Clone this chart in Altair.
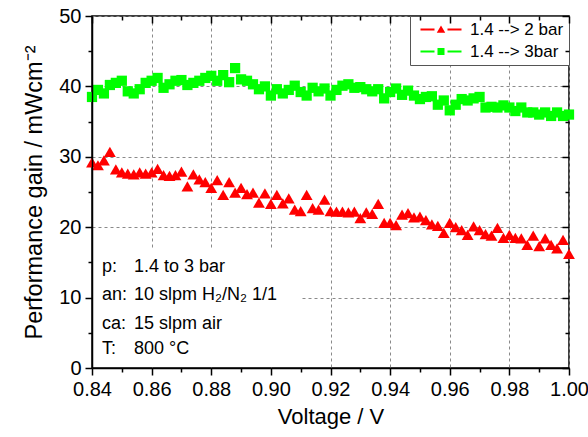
import altair as alt
import pandas as pd

# ---------------- data ----------------
VOLTAGE = [0.840, 0.842, 0.844, 0.846, 0.848, 0.850, 0.852, 0.854, 0.856, 0.858,
           0.860, 0.862, 0.864, 0.866, 0.868, 0.870, 0.872, 0.874, 0.876, 0.878,
           0.880, 0.882, 0.884, 0.886, 0.888, 0.890, 0.892, 0.894, 0.896, 0.898,
           0.900, 0.902, 0.904, 0.906, 0.908, 0.910, 0.912, 0.914, 0.916, 0.918,
           0.920, 0.922, 0.924, 0.926, 0.928, 0.930, 0.932, 0.934, 0.936, 0.938,
           0.940, 0.942, 0.944, 0.946, 0.948, 0.950, 0.952, 0.954, 0.956, 0.958,
           0.960, 0.962, 0.964, 0.966, 0.968, 0.970, 0.972, 0.974, 0.976, 0.978,
           0.980, 0.982, 0.984, 0.986, 0.988, 0.990, 0.992, 0.994, 0.996, 0.998,
           1.000]

GAIN_2BAR = [29.2, 28.8, 29.5, 30.7, 28.2, 27.8, 27.6, 27.5, 27.8, 27.6,
             27.8, 28.3, 27.4, 27.3, 27.4, 27.9, 25.8, 27.5, 26.8, 26.4,
             25.6, 26.7, 24.6, 26.4, 24.9, 25.6, 24.7, 24.9, 23.5, 24.8,
             23.3, 24.6, 23.4, 24.1, 22.5, 22.3, 24.6, 22.7, 22.5, 23.9,
             22.3, 22.2, 22.2, 22.1, 22.2, 21.3, 22.1, 21.9, 23.3, 20.6,
             20.6, 20.3, 21.8, 22.0, 21.4, 21.5, 21.0, 20.4, 20.2, 19.2,
             20.6, 20.0, 19.6, 18.9, 20.1, 19.6, 19.0, 18.8, 19.9, 18.5,
             18.9, 18.5, 18.4, 17.5, 18.8, 17.3, 18.4, 17.5, 17.0, 18.2,
             16.2]

GAIN_3BAR = [38.5, 39.5, 39.0, 40.2, 40.5, 40.8, 39.3, 39.0, 39.6, 40.5,
             40.8, 41.2, 39.8, 40.3, 40.8, 40.9, 40.2, 40.5, 40.8, 41.2,
             41.5, 40.8, 41.6, 40.6, 42.6, 41.0, 40.8, 40.3, 39.6, 40.0,
             38.7, 39.6, 39.0, 39.5, 40.1, 39.2, 38.7, 39.8, 39.3, 39.7,
             38.7, 39.5, 40.1, 40.3, 39.8, 39.9, 39.6, 39.3, 39.6, 38.3,
             39.2, 39.7, 38.8, 39.4, 38.7, 38.2, 38.5, 38.6, 37.4, 38.0,
             36.6, 37.4, 38.2, 38.0, 38.3, 38.5, 37.0, 37.1, 37.0, 37.3,
             37.0, 36.5, 37.0, 36.3, 36.3, 36.0, 36.3, 35.8, 36.3, 35.8,
             36.0]

SERIES = ["1.4 --> 2 bar", "1.4 --> 3bar"]
COLORS = ["#ff0000", "#00ff00"]

X_MAJOR = [0.84, 0.86, 0.88, 0.90, 0.92, 0.94, 0.96, 0.98, 1.00]
X_MINOR = [0.85, 0.87, 0.89, 0.91, 0.93, 0.95, 0.97, 0.99]
Y_MAJOR = [0, 10, 20, 30, 40, 50]
Y_MINOR = [5, 15, 25, 35, 45]

ANNOT_LABELS = ["p:", "an:", "ca:", "T:"]
ANNOT_VALUES = ["1.4 to 3 bar", "10 slpm H\u2082/N\u2082 1/1", "15 slpm air", "800 \u00b0C"]

X_TITLE = "Voltage / V"
Y_TITLE = "Performance gain / mWcm\u207b\u00b2"

# ---------------- chart ----------------
FONT = "Liberation Sans"
W, H = 477, 352

df = pd.DataFrame({
    "V": VOLTAGE * 2,
    "gain": GAIN_2BAR + GAIN_3BAR,
    "series": [SERIES[0]] * len(VOLTAGE) + [SERIES[1]] * len(VOLTAGE),
})

xs = alt.Scale(domain=[X_MAJOR[0], X_MAJOR[-1]], nice=False, zero=False)
ys = alt.Scale(domain=[Y_MAJOR[0], Y_MAJOR[-1]], nice=False, zero=False)

NOAX = dict(labels=False, domain=False, grid=False, title=None)


def carrier(xaxis, yaxis):
    return alt.Chart(df).mark_point(opacity=0).encode(
        x=alt.X("V:Q", scale=xs, axis=xaxis),
        y=alt.Y("gain:Q", scale=ys, axis=yaxis),
    )


# grid (behind everything)
grid_layer = carrier(
    alt.Axis(orient="bottom", values=X_MAJOR, grid=True, gridColor="#8a8a8a",
             gridDash=[3, 3], gridWidth=1, ticks=False, labels=False,
             domain=False, title=None, zindex=0),
    alt.Axis(orient="left", values=Y_MAJOR, grid=True, gridColor="#8a8a8a",
             gridDash=[3, 3], gridWidth=1, ticks=False, labels=False,
             domain=False, title=None, zindex=0),
)

# white background of the annotation block
annot_bg = alt.Chart(pd.DataFrame({"a": [0]})).mark_rect(color="white").encode(
    x=alt.value(1), x2=alt.value(210), y=alt.value(232), y2=alt.value(351)
)

ANNOT_Y = [251, 279, 308, 333]
annot_layers = []
for lab, val, yy in zip(ANNOT_LABELS, ANNOT_VALUES, ANNOT_Y):
    d = pd.DataFrame({"lab": [lab], "val": [val]})
    annot_layers.append(
        alt.Chart(d).mark_text(align="left", baseline="middle", font=FONT,
                               fontSize=18, color="black")
        .encode(x=alt.value(10), y=alt.value(yy), text="lab:N"))
    annot_layers.append(
        alt.Chart(d).mark_text(align="left", baseline="middle", font=FONT,
                               fontSize=18, color="black")
        .encode(x=alt.value(42), y=alt.value(yy), text="val:N"))

# data points with the main axes
main_x = alt.Axis(orient="bottom", values=X_MAJOR, format=".2f", grid=False,
                  domain=True, domainColor="black", domainWidth=1.5,
                  ticks=True, tickColor="black", tickWidth=1.5, tickSize=7,
                  labelFont=FONT, labelFontSize=20, labelColor="black",
                  labelPadding=4, labelFlush=False, labelOverlap=False,
                  title=X_TITLE, titleFont=FONT, titleFontSize=22,
                  titleFontWeight="normal", titleColor="black", titlePadding=7,
                  zindex=1)
main_y = alt.Axis(orient="left", values=Y_MAJOR, format="d", grid=False,
                  domain=True, domainColor="black", domainWidth=1.5,
                  ticks=True, tickColor="black", tickWidth=1.5, tickSize=7,
                  labelFont=FONT, labelFontSize=20, labelColor="black",
                  labelPadding=4, labelFlush=False, labelOverlap=False,
                  title=Y_TITLE, titleFont=FONT, titleFontSize=23.5,
                  titleFontWeight="normal", titleColor="black", titlePadding=12,
                  zindex=1)

points = alt.Chart(df).mark_point(filled=True, opacity=1).encode(
    x=alt.X("V:Q", scale=xs, axis=main_x),
    y=alt.Y("gain:Q", scale=ys, axis=main_y),
    color=alt.Color("series:N", scale=alt.Scale(domain=SERIES, range=COLORS), legend=None),
    shape=alt.Shape("series:N", scale=alt.Scale(domain=SERIES, range=["triangle-up", "square"]), legend=None),
    size=alt.Size("series:N", scale=alt.Scale(domain=SERIES, range=[140, 105]), legend=None),
)

TK = dict(ticks=True, tickColor="black", tickWidth=1.5, zindex=1)
minor_layer = carrier(
    alt.Axis(orient="bottom", values=X_MINOR, tickSize=4, **TK, **NOAX),
    alt.Axis(orient="left", values=Y_MINOR, tickSize=4, **TK, **NOAX),
)
inner_major = carrier(
    alt.Axis(orient="top", offset=-7, values=X_MAJOR, tickSize=7, **TK, **NOAX),
    alt.Axis(orient="right", offset=-7, values=Y_MAJOR, tickSize=7, **TK, **NOAX),
)
inner_minor = carrier(
    alt.Axis(orient="top", offset=-4, values=X_MINOR, tickSize=4, **TK, **NOAX),
    alt.Axis(orient="right", offset=-4, values=Y_MINOR, tickSize=4, **TK, **NOAX),
)

# legend (dash - marker - dash symbols)
DASHES = "M-4.1,-0.2H-1.3V0.2H-4.1Z M1.3,-0.2H4.1V0.2H1.3Z "
TRI_PATH = DASHES + "M0,-0.8L0.85,0.65L-0.85,0.65Z"
SQ_PATH = DASHES + "M-0.7,-0.7H0.7V0.7H-0.7Z"

leg = alt.Legend(title=None, orient="top-right", offset=0, padding=5,
                 fillColor="white", strokeColor="#555555",
                 labelFont=FONT, labelFontSize=17, labelColor="black",
                 symbolSize=100, symbolOffset=17.5, labelOffset=20.5,
                 rowPadding=4)

legend_layer = alt.Chart(df).transform_filter("false").mark_point(filled=True, opacity=1).encode(
    color=alt.Color("series:N", scale=alt.Scale(domain=SERIES, range=COLORS), legend=leg),
    shape=alt.Shape("series:N", scale=alt.Scale(domain=SERIES, range=[TRI_PATH, SQ_PATH]), legend=leg),
)

chart = alt.layer(
    grid_layer, annot_bg, *annot_layers, points, minor_layer, inner_major,
    inner_minor, legend_layer
).resolve_axis(
    x="independent", y="independent"
).resolve_scale(
    color="independent", shape="independent", size="independent"
).properties(
    width=W, height=H,
    autosize=alt.AutoSizeParams(type="none"),
    padding={"left": 92, "top": 16, "right": 19, "bottom": 69},
    background="white",
).configure_view(stroke="black", strokeWidth=1.5)

chart.save("out.html", embed_options={"renderer": "svg", "actions": False})
